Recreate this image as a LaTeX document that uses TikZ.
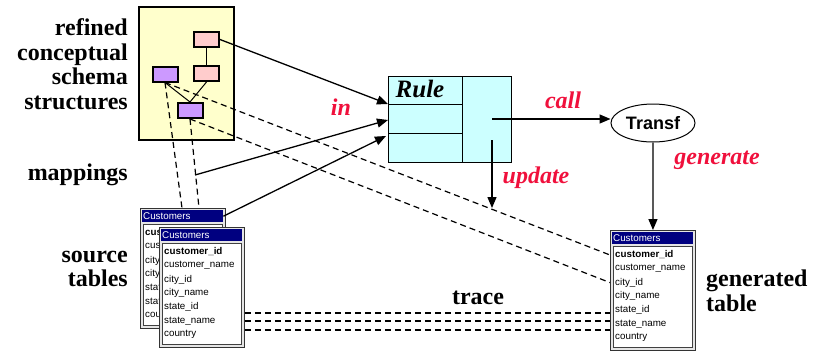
\documentclass[tikz,border=0pt]{standalone}
\usepackage{fontspec}
\setmainfont{Liberation Serif}
\setsansfont{Liberation Sans}
\usetikzlibrary{arrows.meta}
\usetikzlibrary{shapes.geometric}

\definecolor{schemabg}{HTML}{FFFFCC}
\definecolor{pinkbox}{HTML}{FFCCCC}
\definecolor{purplebox}{HTML}{CC99FF}
\definecolor{rulebg}{HTML}{CCFFFF}
\definecolor{labelred}{HTML}{F0103C}
\definecolor{barblue}{HTML}{000080}

\tikzset{
  smallbox/.style={draw=black, line width=2pt, minimum width=25pt, minimum height=15pt, inner sep=0pt},
  lbl/.style={font=\fontsize{24}{24.5}\selectfont\bfseries, inner sep=0pt},
  redlbl/.style={text=labelred, font=\fontsize{24}{24}\selectfont\bfseries\itshape, inner sep=0pt},
  arr/.style={-{Triangle[length=11pt,width=9pt]}, line width=1.3pt},
  map/.style={dash pattern=on 6pt off 4pt, line width=1.2pt},
  tblframe/.style={draw=gray!40!black, fill=gray!20, line width=0.9pt, minimum width=85pt, minimum height=120pt, inner sep=0pt},
  tblbar/.style={fill=barblue, minimum width=81pt, minimum height=12pt, inner sep=0pt},
  tblbody/.style={fill=white, draw=gray!50!black, line width=1pt, minimum width=79pt, minimum height=101pt, inner sep=0pt},
  tbltext/.style={font=\fontsize{9.8}{11}\selectfont\sffamily, inner sep=1pt}
}

% table with title bar and rows: name, left, top, right edge of visible rows
\newcommand{\custtable}[4]{%
  \node[tblframe, anchor=north west] (#1) at (#2,#3) {};
  \node[tblbar, anchor=north west] (#1-bar) at (#2+2,#3+2) {};
  \node[tbltext, text=white, anchor=west] at (#1-bar.west) {Customers};
  \node[tblbody, anchor=north west] at (#2+3,#3+16) {};
  \begin{scope}
    \clip (#2,#3) rectangle (#4,#3+120);
    \foreach \fld [count=\i from 0] in {{\bfseries customer\_id},customer\_name,city\_id,city\_name,state\_id,state\_name,country}
      \node[tbltext, anchor=west] (#1-r\i) at (#2+4,#3+25+13.8*\i) {\fld};
  \end{scope}
}

\begin{document}
\begin{tikzpicture}[x=1pt, y=-1pt]
  \useasboundingbox (0,0) rectangle (817,354);

  % schema structures
  \draw[fill=schemabg, line width=2pt] (139,7) rectangle (234,140);
  \node[smallbox, fill=pinkbox] (pinktop) at (206.5,39.5) {};
  \node[smallbox, fill=pinkbox] (pinkmid) at (206.5,73.5) {};
  \node[smallbox, fill=purplebox] (purpleft) at (165,74) {};
  \node[smallbox, fill=purplebox] (purpbot) at (190,110.5) {};
  \draw[line width=1pt] (pinktop.south) -- (pinkmid.north);
  \draw[line width=1pt] (pinkmid.south) -- (purpbot.north);
  \draw[line width=1pt] (purpleft.south) -- (purpbot.north);

  % rule
  \node[draw, fill=rulebg, line width=1pt, minimum width=123pt, minimum height=86pt, inner sep=0pt] (rule) at (449.5,119) {};
  \draw[line width=1pt] (462,76) -- (462,162);
  \draw[line width=1pt] (388,104) -- (462,104);
  \draw[line width=1pt] (388,133) -- (462,133);
  \node[font=\fontsize{25}{25}\selectfont\bfseries\itshape, inner sep=0pt] (rulename) at (420,89) {Rule};
  \coordinate (in1) at (388,104);
  \coordinate (in2) at (388,120);
  \coordinate (in3) at (386,136);
  \coordinate (callout) at (492,119);
  \coordinate (updout) at (492,140);
  \coordinate (updend) at (492,208);

  \node[draw, ellipse, line width=1pt, minimum width=84pt, minimum height=38pt, inner sep=0pt,
        font=\fontsize{18}{18}\selectfont\sffamily\bfseries] (transf) at (653,123) {Transf};

  % tables
  \custtable{srcb}{140}{208}{159}
  \custtable{src}{159}{227}{244}
  \custtable{gen}{610}{230}{695}

  % mappings
  \coordinate (m1) at (182,208);
  \coordinate (m2) at (199,208);
  \coordinate (mapstart) at (195,175);
  \draw[map] (purpleft.south) -- (m1);
  \draw[map] (purpbot.south) -- (m2);
  \draw[map] (purpleft.south) -- (gen.west |- gen-r0);
  \draw[map] (purpbot.south) -- (gen.west |- gen-r2);

  % trace
  \coordinate (t1) at (0,313);
  \coordinate (t2) at (0,321);
  \coordinate (t3) at (0,330);
  \foreach \t in {t1,t2,t3}
    \draw[map] (src.east |- \t) -- (gen.west |- \t);

  % arrows
  \draw[arr] (pinktop.east) -- (in1);
  \draw[arr] (mapstart) -- (in2);
  \draw[arr] (srcb-bar.east) -- (in3);
  \draw[arr] (callout) -- (callout -| transf.west);
  \draw[arr] (updout) -- (updend);
  \draw[arr] (transf.south) -- (gen.north);

  % labels
  \node[lbl, align=right, anchor=east] (schemalbl) at (128,64) {refined\\conceptual\\schema\\structures};
  \node[lbl, anchor=east] (maplbl) at (128,175) {mappings};
  \node[lbl, align=right, anchor=east] (srclbl) at (128,269) {source\\tables};
  \node[lbl, align=left, anchor=west] (genlbl) at (706,291) {generated\\table};
  \node[lbl] (tracelbl) at (478,298) {trace};
  \node[redlbl] (inlbl) at (341,107) {in};
  \node[redlbl] (calllbl) at (563,100) {call};
  \node[redlbl] (updlbl) at (536,178) {update};
  \node[redlbl] (genrlbl) at (717,160) {generate};
\end{tikzpicture}
\end{document}
